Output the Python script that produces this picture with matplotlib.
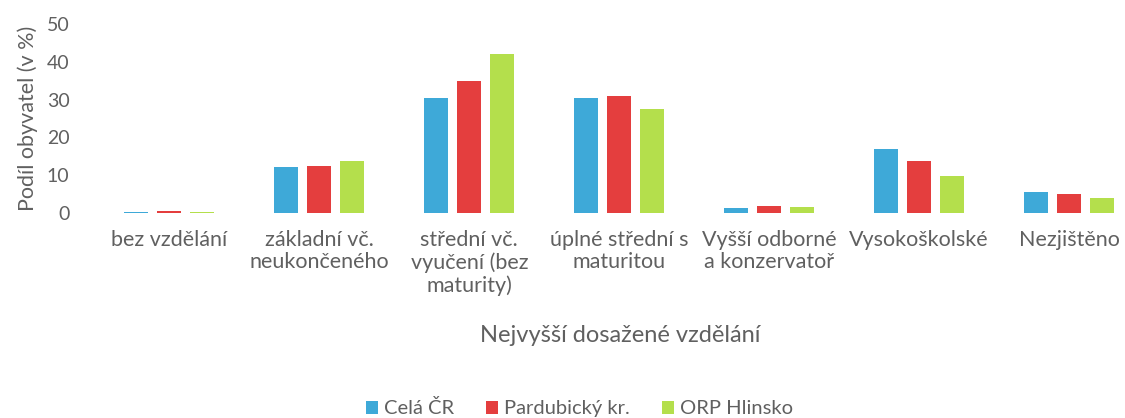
import numpy as np
from matplotlib import pyplot as plt

categories = ['bez vzdělání', 'základní vč.\nneukončeného', 'střední vč.\nvyučení (bez\nmaturity)',
              'úplné střední s\nmaturitou', 'Vyšší odborné\na konzervatoř', 'Vysokoškolské', 'Nezjištěno']
series = ['Celá ČR', 'Pardubický kr.', 'ORP Hlinsko']
cela_cr = [0.4, 12.1, 30.5, 30.5, 1.3, 17.0, 5.5]
pardubicky = [0.5, 12.4, 35.0, 31.0, 1.8, 13.7, 5.0]
hlinsko = [0.3, 13.7, 42.0, 27.6, 1.6, 9.7, 4.0]
colors = ['#3ea9d8', '#e43e3e', '#b4df4c']

plt.rcParams['font.family'] = ['Lato', 'DejaVu Sans']
grey = '#606060'

fig = plt.figure(figsize=(11.25, 4.18), dpi=100)
ax = fig.add_axes([0.084, 0.49, 0.933, 0.453])

x = np.arange(len(categories))
w = 0.16
step = 0.22
for i, (vals, name) in enumerate(zip([cela_cr, pardubicky, hlinsko], series)):
	ax.bar(x + (i - 1) * step, vals, width=w, color=colors[i], label=name)

ax.set_xlim(-0.5, len(categories) - 0.5)
ax.set_ylim(0, 50)
ax.set_yticks(range(0, 51, 10))
for s in ax.spines.values():
	s.set_visible(False)
ax.tick_params(axis='both', length=0, colors=grey)
ax.tick_params(axis='y', labelsize=14, pad=18)
ax.set_xticks(x)
ax.set_xticklabels(categories, fontsize=15.5, color=grey, linespacing=1.15)
ax.tick_params(axis='x', pad=12)

ax.set_ylabel('Podíl obyvatel (v %)', fontsize=15.5, color=grey, labelpad=6)
fig.text(0.551, 1 - 335 / 418, 'Nejvyšší dosažené vzdělání', fontsize=17, color=grey,
		 ha='center', va='center')

leg = ax.legend(loc='center', bbox_to_anchor=(0.462, -1.03), ncol=3, frameon=False,
				fontsize=14.5, handlelength=0.6, handleheight=0.6, handletextpad=0.3, columnspacing=1.6)
for t in leg.get_texts():
	t.set_color(grey)

fig.savefig('out.png', dpi=100)
